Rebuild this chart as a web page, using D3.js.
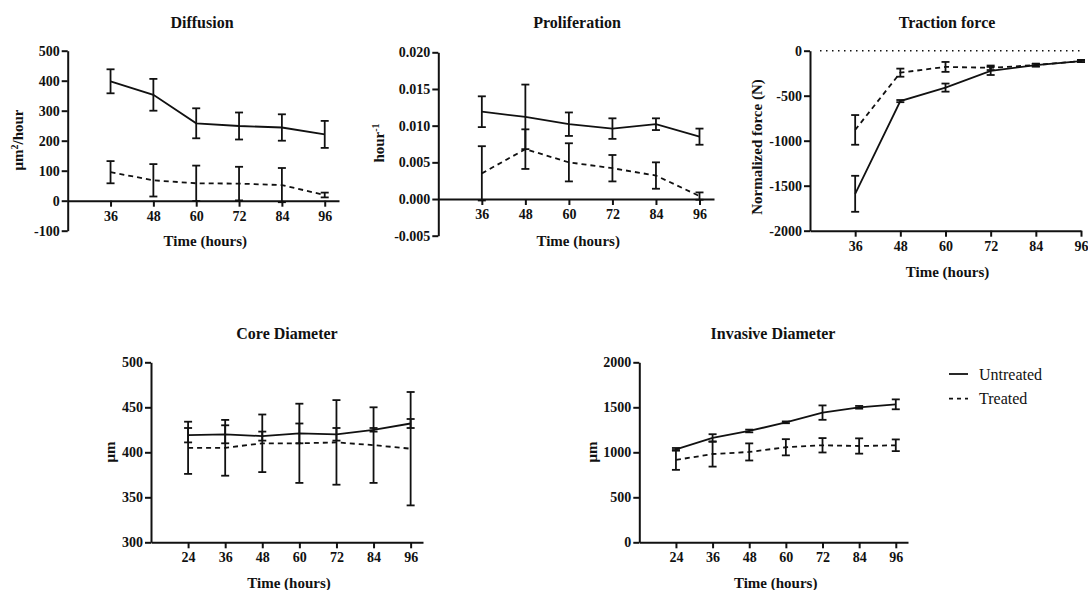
<!DOCTYPE html>
<html>
<head>
<meta charset="utf-8">
<script src="https://cdn.jsdelivr.net/npm/d3@7"></script>
<style>
  body { margin: 0; background: #fff; }
</style>
</head>
<body>
<svg id="chart" width="1088" height="590"></svg>
<script>
// time points
const hoursTop = [36, 48, 60, 72, 84, 96];
const hoursBottom = [24, 36, 48, 60, 72, 84, 96];

// Diffusion (um^2/hour)
const diffUntreated = [398, 353, 258, 249, 244, 221];
const diffUntreatedErr = [40, 53, 50, 45, 44, 45];
const diffTreated = [95, 68, 58, 57, 52, 19];
const diffTreatedErr = [37, 54, 59, 56, 57, 8];

// Proliferation (hour^-1)
const prolUntreated = [0.0119, 0.0112, 0.0102, 0.0096, 0.0102, 0.0085];
const prolUntreatedErr = [0.0021, 0.0044, 0.0016, 0.0014, 0.0008, 0.0011];
const prolTreated = [0.0035, 0.0068, 0.0050, 0.0042, 0.0032, 0.0004];
const prolTreatedErr = [0.0037, 0.0027, 0.0026, 0.0018, 0.0018, 0.0005];

// Traction force (N)
const tracUntreated = [-1590, -560, -410, -225, -160, -115];
const tracUntreatedErr = [200, 12, 45, 45, 15, 12];
const tracTreated = [-880, -244, -180, -190, -160, -115];
const tracTreatedErr = [165, 45, 55, 25, 15, 12];

// Core diameter (um)
const coreUntreated = [419, 420, 418, 421, 420, 425, 432];
const coreUntreatedErr = [8, 10, 5, 11, 7, 2, 5];
const coreTreated = [405, 405, 410, 410, 411, 408, 404];
const coreTreatedErr = [29, 31, 32, 44, 47, 42, 63];

// Invasive diameter (um)
const invUntreated = [1033, 1159, 1237, 1333, 1441, 1500, 1533];
const invUntreatedErr = [15, 42, 15, 10, 80, 15, 55];
const invTreated = [915, 981, 1004, 1056, 1078, 1070, 1078];
const invTreatedErr = [110, 140, 95, 90, 80, 85, 65];

// tick values
const diffTicks = [-100, 0, 100, 200, 300, 400, 500];
const prolTicks = [-0.005, 0, 0.005, 0.010, 0.015, 0.020];
const tracTicks = [-2000, -1500, -1000, -500, 0];
const coreTicks = [300, 350, 400, 450, 500];
const invTicks = [0, 500, 1000, 1500, 2000];

const seriesNames = ["Untreated", "Treated"];

const FONT = "'Liberation Serif', 'DejaVu Serif', serif";
const INK = "#111";
const svg = d3.select("#chart");

// plain hyphen for negatives, like the original
const fmt = f => d => d3.format(f)(d).replace("\u2212", "-");

function styleAxis(sel) {
  sel.attr("font-family", FONT);
  sel.selectAll("path, line").attr("stroke", INK).attr("stroke-width", 2);
  sel.selectAll("text")
    .attr("font-family", FONT).attr("font-size", 14).attr("font-weight", "bold").attr("fill", INK);
}

function panel(o) {
  const x = d3.scaleLinear().domain(o.xDomain).range([o.left, o.right]);
  const y = d3.scaleLinear().domain(o.yDomain).range([o.bottom, o.top]);
  const g = svg.append("g");

  // y axis
  g.append("g")
    .attr("transform", `translate(${o.left},0)`)
    .call(d3.axisLeft(y).tickValues(o.yTicks).tickFormat(o.yFormat).tickSize(6).tickSizeOuter(0).tickPadding(2))
    .call(styleAxis);

  // x axis, at y = 0 if asked, otherwise at the bottom
  const xAxisY = o.axisAtZero ? y(0) : o.bottom;
  g.append("g")
    .attr("transform", `translate(0,${xAxisY})`)
    .call(d3.axisBottom(x).tickValues(o.hours).tickSize(6).tickSizeOuter(0).tickPadding(4))
    .call(styleAxis);

  if (o.zeroDotted) {
    g.append("line")
      .attr("x1", o.left + 10).attr("x2", x(96))
      .attr("y1", y(0)).attr("y2", y(0))
      .attr("stroke", INK).attr("stroke-width", 1.6)
      .attr("stroke-dasharray", "1.5,4.5");
  }

  const series = [
    { vals: o.untreated, err: o.untreatedErr, dash: null },
    { vals: o.treated, err: o.treatedErr, dash: "5,4" }
  ];

  series.forEach(s => {
    const pts = o.hours.map((h, i) => ({ h: h, v: s.vals[i], e: s.err[i] }));
    const line = d3.line().x(d => x(d.h)).y(d => y(d.v));
    g.append("path").datum(pts)
      .attr("fill", "none").attr("stroke", INK).attr("stroke-width", 1.8)
      .attr("stroke-dasharray", s.dash)
      .attr("d", line);

    const eb = g.selectAll(null).data(pts).enter().append("g");
    eb.append("line")
      .attr("x1", d => x(d.h)).attr("x2", d => x(d.h))
      .attr("y1", d => y(d.v - d.e)).attr("y2", d => y(d.v + d.e))
      .attr("stroke", INK).attr("stroke-width", 1.8);
    [-1, 1].forEach(sign => {
      eb.append("line")
        .attr("x1", d => x(d.h) - 4).attr("x2", d => x(d.h) + 4)
        .attr("y1", d => y(d.v + sign * d.e)).attr("y2", d => y(d.v + sign * d.e))
        .attr("stroke", INK).attr("stroke-width", 1.8);
    });
  });

  // title
  g.append("text")
    .attr("x", o.titleX).attr("y", o.titleY)
    .attr("font-family", FONT).attr("fill", INK)
    .attr("text-anchor", "middle").attr("font-size", 16).attr("font-weight", "bold")
    .text(o.title);

  // x title
  g.append("text")
    .attr("x", (o.left + o.right) / 2 + 2).attr("y", o.xTitleY)
    .attr("font-family", FONT).attr("fill", INK)
    .attr("text-anchor", "middle").attr("font-size", 15).attr("font-weight", "bold")
    .text("Time (hours)");

  // y title
  const yt = g.append("text")
    .attr("transform", `translate(${o.yTitleX},${o.yTitleY}) rotate(-90)`)
    .attr("font-family", FONT).attr("fill", INK)
    .attr("text-anchor", "middle").attr("font-size", 15).attr("font-weight", "bold");
  yt.append("tspan").text(o.yLabel[0]);
  if (o.yLabel[1]) {
    yt.append("tspan").attr("baseline-shift", "super").attr("font-size", 10).text(o.yLabel[1]);
    yt.append("tspan").text(o.yLabel[2] || "");
  }
  return g;
}

panel({
  title: "Diffusion", titleX: 202, titleY: 28,
  left: 67.7, right: 339, top: 50.7, bottom: 230.7,
  xDomain: [24, 100], yDomain: [-100, 500], yTicks: diffTicks, yFormat: fmt("d"),
  hours: hoursTop, axisAtZero: true,
  untreated: diffUntreated, untreatedErr: diffUntreatedErr,
  treated: diffTreated, treatedErr: diffTreatedErr,
  xTitleY: 246, yTitleX: 23, yTitleY: 140, yLabel: ["\u03bcm", "2", "/hour"]
});

panel({
  title: "Proliferation", titleX: 577, titleY: 28,
  left: 438.3, right: 714, top: 52.3, bottom: 235.7,
  xDomain: [24, 100], yDomain: [-0.005, 0.020], yTicks: prolTicks, yFormat: fmt(".3f"),
  hours: hoursTop, axisAtZero: true,
  untreated: prolUntreated, untreatedErr: prolUntreatedErr,
  treated: prolTreated, treatedErr: prolTreatedErr,
  xTitleY: 246, yTitleX: 384, yTitleY: 143, yLabel: ["hour", "-1", ""]
});

panel({
  title: "Traction force", titleX: 947, titleY: 28,
  left: 810, right: 1081, top: 50.7, bottom: 230.7,
  xDomain: [24, 96], yDomain: [-2000, 0], yTicks: tracTicks, yFormat: fmt("d"),
  hours: hoursTop, axisAtZero: false, zeroDotted: true,
  untreated: tracUntreated, untreatedErr: tracUntreatedErr,
  treated: tracTreated, treatedErr: tracTreatedErr,
  xTitleY: 277, yTitleX: 762, yTitleY: 147, yLabel: ["Normalized force (N)"]
});

panel({
  title: "Core Diameter", titleX: 287, titleY: 339,
  left: 151, right: 423, top: 362.3, bottom: 542.3,
  xDomain: [12, 100], yDomain: [300, 500], yTicks: coreTicks, yFormat: fmt("d"),
  hours: hoursBottom, axisAtZero: false,
  untreated: coreUntreated, untreatedErr: coreUntreatedErr,
  treated: coreTreated, treatedErr: coreTreatedErr,
  xTitleY: 588, yTitleX: 115, yTitleY: 452, yLabel: ["\u03bcm"]
});

panel({
  title: "Invasive Diameter", titleX: 773, titleY: 339,
  left: 639.3, right: 908, top: 362.3, bottom: 542.3,
  xDomain: [12, 100], yDomain: [0, 2000], yTicks: invTicks, yFormat: fmt("d"),
  hours: hoursBottom, axisAtZero: false,
  untreated: invUntreated, untreatedErr: invUntreatedErr,
  treated: invTreated, treatedErr: invTreatedErr,
  xTitleY: 588, yTitleX: 597, yTitleY: 452, yLabel: ["\u03bcm"]
});

// legend
const legend = svg.append("g").attr("transform", "translate(949,374)");
seriesNames.forEach((name, i) => {
  const row = legend.append("g").attr("transform", `translate(0,${i * 24.7})`);
  row.append("line").attr("x1", 0).attr("x2", 19).attr("y1", 0).attr("y2", 0)
    .attr("stroke", INK).attr("stroke-width", 1.8)
    .attr("stroke-dasharray", i === 1 ? "4,4" : null);
  row.append("text").attr("x", 30).attr("y", 5.5)
    .attr("font-family", FONT).attr("fill", INK).attr("font-size", 16).text(name);
});
</script>
</body>
</html>
